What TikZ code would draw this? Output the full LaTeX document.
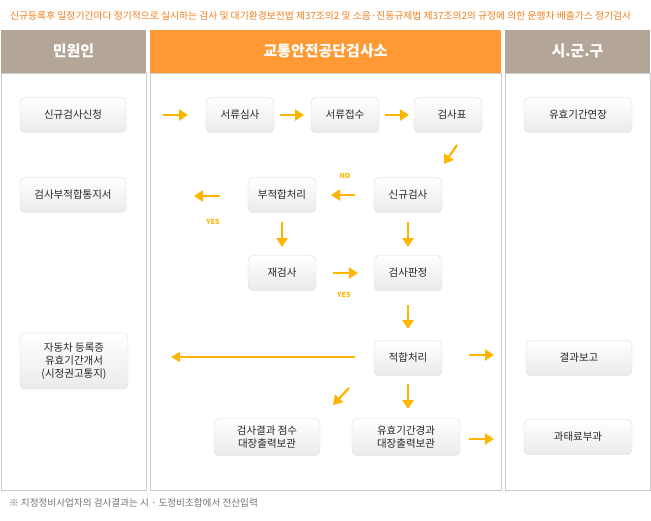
\documentclass[tikz,border=0pt]{standalone}
\usepackage{fontspec}
\setmainfont{Noto Sans CJK KR}
\usetikzlibrary{arrows.meta}
\definecolor{org}{HTML}{FF9933}
\definecolor{tan}{HTML}{B3A699}
\definecolor{arr}{HTML}{FFB400}
\definecolor{ttl}{HTML}{F27D1A}
\tikzset{
 box/.style={draw=black!15,rounded corners=5pt,top color=white,bottom color=black!8,font=\fontsize{10.5}{13}\selectfont,text=black!85,align=center,inner sep=0pt},
 hdr/.style={font=\fontsize{15}{16}\selectfont\bfseries,text=white},
 ar/.style={draw=arr,line width=2.2pt,-{Triangle[width=11pt,length=9pt]}},
 lbl/.style={text=arr,font=\fontsize{7}{8}\selectfont\bfseries}
}
\begin{document}
\begin{tikzpicture}[x=1pt,y=-1pt]
\useasboundingbox (0,0) rectangle (651,520);
\node[text=ttl,font=\fontsize{9.8}{11}\selectfont,anchor=west,inner sep=0pt] (title) at (10,16) {신규등록후 일정기간마다 정기적으로 실시하는 검사 및 대기환경보전법 제37조의2 및 소음·진동규제법 제37조의2의 규정에 의한 운행차 배출가스 정기검사};
% columns
\draw[black!20] (1,73) rectangle (146,490);
\draw[black!20] (150,73) rectangle (501,490);
\draw[black!20] (505,73) rectangle (650,490);
\fill[tan] (1,30) rectangle (146,73);
\fill[org] (150,30) rectangle (501,73);
\fill[tan] (505,30) rectangle (650,73);
\node[hdr] (h1) at (73.5,51) {민원인};
\node[hdr] (h2) at (325.5,51) {교통안전공단검사소};
\node[hdr] (h3) at (577.5,51) {시.군.구};
% boxes
\node[box,minimum width=106pt,minimum height=35pt] (a1) at (73,115) {신규검사신청};
\node[box,minimum width=106pt,minimum height=35pt] (a2) at (73,195) {검사부적합통지서};
\node[box,minimum width=108pt,minimum height=56pt] (a3) at (74,361) {자동차 등록증\\유효기간개서\\(시정권고통지)};
\node[box,minimum width=68pt,minimum height=35pt] (b1) at (240,115) {서류심사};
\node[box,minimum width=68pt,minimum height=35pt] (b2) at (345,115) {서류접수};
\node[box,minimum width=68pt,minimum height=35pt] (b3) at (448,115) {\hspace{8pt}검사표};
\node[box,minimum width=68pt,minimum height=35pt] (c1) at (282,195) {부적합처리};
\node[box,minimum width=68pt,minimum height=35pt] (c2) at (408,195) {신규검사};
\node[box,minimum width=68pt,minimum height=35pt] (d1) at (282,273) {재검사};
\node[box,minimum width=68pt,minimum height=35pt] (d2) at (408,273) {검사판정};
\node[box,minimum width=68pt,minimum height=35pt] (e1) at (408,358) {적합처리};
\node[box,minimum width=106pt,minimum height=37pt] (f1) at (267,437) {검사결과 점수\\대장출력보관};
\node[box,minimum width=108pt,minimum height=37pt] (f2) at (406,437) {유효기간경과\\대장출력보관};
\node[box,minimum width=108pt,minimum height=35pt] (g1) at (578,115) {유효기간연장};
\node[box,minimum width=106pt,minimum height=35pt] (g2) at (579,358) {결과보고};
\node[box,minimum width=108pt,minimum height=35pt] (g3) at (578,437) {과태료부과};
% arrows
\draw[ar] (163,115) -- (188,115);
\draw[ar] (280,115) -- (304,115);
\draw[ar] (385,115) -- (409,115);
\draw[ar] (457,145) -- (444,164);
\draw[ar] (355,195) -- (331,195);
\node[lbl] (no) at (345,176) {NO};
\draw[ar] (220,196) -- (194,196);
\node[lbl] (y1) at (213,222) {YES};
\draw[ar] (282,222) -- (282,247);
\draw[ar] (408,222) -- (408,247);
\draw[ar] (333,273) -- (358,273);
\node[lbl] (y2) at (344,295) {YES};
\draw[ar] (408,305) -- (408,329);
\draw[ar,line width=1.5pt,-{Triangle[width=10pt,length=9pt]}] (355,357) -- (171,357);
\draw[ar] (469,355) -- (494,355);
\draw[ar] (349,388) -- (333,405);
\draw[ar] (408,384) -- (408,409);
\draw[ar] (469,439) -- (494,439);
\node[text=black!55,font=\fontsize{9.6}{10}\selectfont,anchor=west,inner sep=0pt] (note) at (9,503) {※ 지정정비사업자의 검사결과는 시 · 도정비조합에서 전산입력};
\end{tikzpicture}
\end{document}
